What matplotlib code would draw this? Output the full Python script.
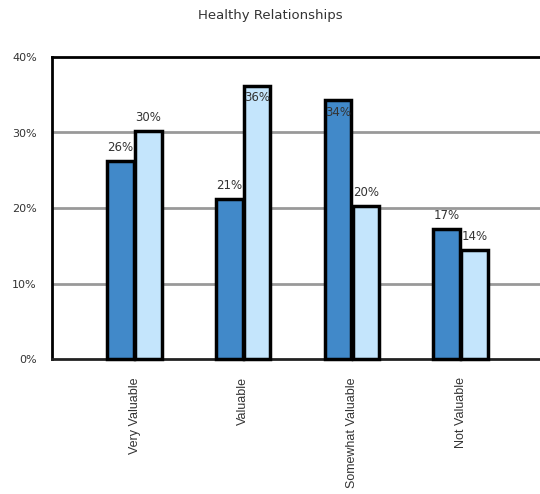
import matplotlib
matplotlib.use("Agg")
import matplotlib.pyplot as plt
import numpy as np

categories = ["Very Valuable", "Valuable", "Somewhat Valuable", "Not Valuable"]
series_a = [0.262, 0.212, 0.343, 0.172]
series_b = [0.302, 0.362, 0.203, 0.145]
yticks = [0.0, 0.1, 0.2, 0.3, 0.4]
ytick_labels = ["0%", "10%", "20%", "30%", "40%"]

dark = "#4189C9"
light = "#C4E5FC"
txt = "#333333"

fig = plt.figure(figsize=(5.40, 4.94), dpi=100)
ax = fig.add_axes([52/540, 1-359/494, 1-52/540, (359-57)/494])

x = np.arange(len(categories))
w = 0.245
off = 0.128
ba = ax.bar(x - off, series_a, width=w, color=dark, edgecolor="black", linewidth=2.5, zorder=3, clip_on=False)
bb = ax.bar(x + off, series_b, width=w, color=light, edgecolor="black", linewidth=2.5, zorder=3, clip_on=False)

inside = {(0, 2), (1, 1)}
for si, (bars, vals) in enumerate([(ba, series_a), (bb, series_b)]):
    for i, (b, v) in enumerate(zip(bars, vals)):
        cx = b.get_x() + b.get_width()/2
        if (si, i) in inside:
            ax.annotate(f"{round(v*100):.0f}%", (cx, v), xytext=(0, -4), textcoords="offset points",
                        ha="center", va="top", fontsize=8.5, color=txt, family="DejaVu Sans", zorder=5)
        else:
            ax.annotate(f"{round(v*100):.0f}%", (cx, v), xytext=(0, 5), textcoords="offset points",
                        ha="center", va="bottom", fontsize=8.5, color=txt, family="DejaVu Sans", zorder=5)

ax.set_ylim(0, 0.4)
ax.set_xlim(-0.759, 3.73)
ax.set_yticks(yticks)
ax.set_yticklabels(ytick_labels, fontsize=8, color=txt, family="DejaVu Sans")
ax.set_xticks(x)
ax.set_xticklabels(categories, rotation=90, fontsize=9, color=txt, family="Liberation Sans", va="top")
ax.tick_params(axis="both", length=0)
ax.tick_params(axis="y", pad=11)
ax.tick_params(axis="x", pad=13)

for t in [0.1, 0.2, 0.3]:
    ax.axhline(t, color="#999999", linewidth=2, zorder=1)

ax.spines["right"].set_visible(False)
ax.spines["left"].set_linewidth(2)
ax.spines["top"].set_linewidth(2)
ax.spines["bottom"].set_linewidth(2)
ax.spines["bottom"].set_color("#222222")

fig.text(0.5, 1-16/494, "Healthy Relationships", ha="center", va="center", fontsize=9.5, color=txt, family="DejaVu Sans")

fig.savefig("out.png", dpi=100)
